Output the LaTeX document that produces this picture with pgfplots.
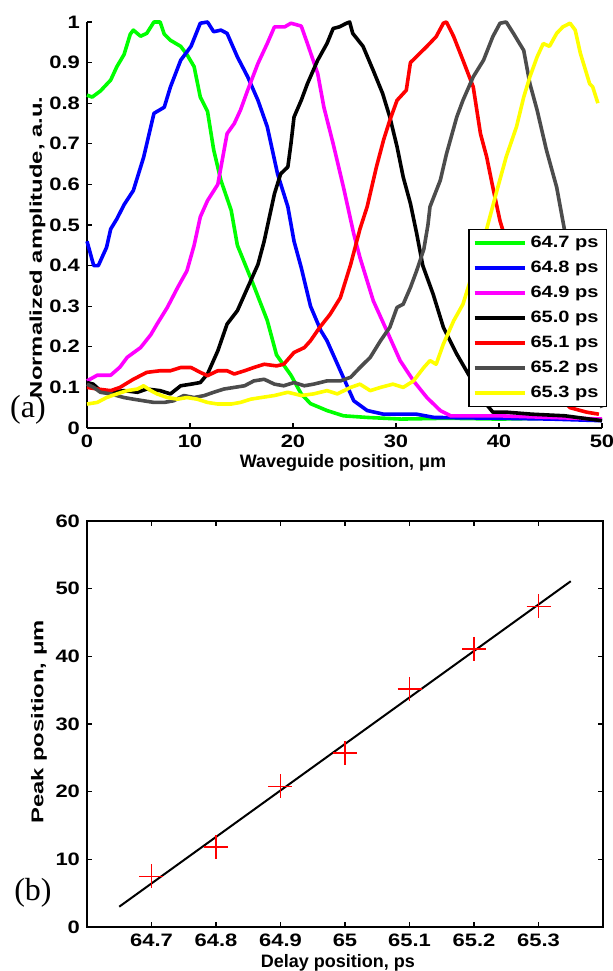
\documentclass[border=0pt]{standalone}
\usepackage{pgfplots}
\pgfplotsset{compat=1.18}
\usepackage{fontspec}
\setmainfont{Liberation Sans}
\newfontfamily\tickfont[FakeStretch=1.22]{Liberation Sans Bold}
\newfontfamily\ylabfont[FakeStretch=1.4]{Liberation Sans Bold}
\newfontfamily\xlabfont{Liberation Sans Bold}
\newfontfamily\panelfont{Liberation Serif}
\definecolor{cgreen}{rgb}{0,1,0}
\definecolor{cblue}{rgb}{0,0,1}
\definecolor{cmag}{rgb}{1,0,1}
\definecolor{cred}{rgb}{1,0,0}
\definecolor{cgray}{rgb}{0.3,0.3,0.3}
\definecolor{cyel}{rgb}{1,1,0}
\begin{document}
\begin{tikzpicture}
\useasboundingbox (0,0) rectangle (306.5pt,485.5pt);
\begin{axis}[
  at={(43.5pt,271.5pt)}, anchor=south west,
  scale only axis, width=257.5pt, height=203pt,
  xmin=0, xmax=50, ymin=0, ymax=1,
  axis x line*=bottom, axis y line*=left,
  axis line style={line width=0.8pt, black},
  tick align=inside, major tick length=2.5pt,
  tick style={line width=0.6pt, black},
  /pgf/number format/assume math mode=true,
  xtick={0,10,20,30,40,50}, xticklabels={0,10,20,30,40,50},
  ytick={0,0.1,0.2,0.3,0.4,0.5,0.6,0.7,0.8,0.9,1},
  yticklabels={0,0.1,0.2,0.3,0.4,0.5,0.6,0.7,0.8,0.9,1},
  ticklabel style={font=\tickfont\fontsize{9}{10}\selectfont},
  xlabel={Waveguide position, μm},
  xlabel style={font=\xlabfont\fontsize{9}{10}\selectfont, at={(axis description cs:0.497,-0.0862)}, anchor=center},
  ylabel={Normalized amplitude, a.u.},
  ylabel style={font=\ylabfont\fontsize{8.5}{10}\selectfont, at={(axis description cs:-0.096,0.445)}, anchor=center},
  clip=false,
  every axis plot/.append style={line width=1.8pt, line join=round},
  legend image code/.code={\draw[#1] (0pt,0pt) -- (25pt,0pt);},
  legend style={at={(axis description cs:1.0097,0.49)}, anchor=north east,
    draw=black, line width=0.6pt, fill=white,
    font=\tickfont\fontsize{8.2}{9}\selectfont,
    inner xsep=2pt, inner ysep=1pt, row sep=1.3pt, cells={anchor=west}},
]
\addplot[cgreen] coordinates {(0,0.82) (0.5,0.815) (1.3,0.83) (2.3,0.857) (2.9,0.89) (3.6,0.92) (4.2,0.97) (4.5,0.98) (5.2,0.965) (5.8,0.972) (6.5,1.0) (7.1,1.0) (7.5,0.97) (8.1,0.955) (9.1,0.94) (9.7,0.92) (10.4,0.89) (11.0,0.815) (11.7,0.78) (12.3,0.685) (13.0,0.61) (14.0,0.536) (14.6,0.45) (16.2,0.35) (17.5,0.265) (18.4,0.18) (19.8,0.13) (20.8,0.084) (21.7,0.06) (23.3,0.043) (24.9,0.03) (27.2,0.026) (30.5,0.022) (35,0.024) (40,0.022) (45,0.024) (50,0.02)};
\addlegendentry{64.7 ps}
\addplot[cblue] coordinates {(0,0.46) (0.65,0.40) (1.1,0.40) (1.9,0.445) (2.3,0.49) (2.9,0.515) (3.6,0.55) (4.5,0.585) (5.5,0.667) (6.5,0.775) (7.5,0.79) (8.1,0.84) (9.1,0.906) (10.1,0.94) (11.0,0.997) (11.7,1.0) (12.3,0.976) (13.0,0.98) (13.6,0.972) (14.6,0.914) (15.6,0.865) (16.6,0.807) (17.5,0.742) (18.5,0.626) (19.5,0.545) (20.1,0.46) (20.8,0.395) (21.7,0.30) (22.7,0.24) (23.3,0.215) (24.6,0.141) (25.9,0.067) (27.2,0.043) (28.8,0.034) (32.0,0.034) (33.7,0.026) (40,0.024) (45,0.022) (50,0.018)};
\addlegendentry{64.8 ps}
\addplot[cmag] coordinates {(0,0.116) (1,0.13) (2.3,0.13) (3.2,0.15) (3.9,0.174) (5.2,0.198) (6.2,0.23) (6.8,0.256) (7.8,0.297) (8.8,0.346) (9.7,0.387) (10.4,0.45) (11.0,0.52) (11.7,0.56) (12.7,0.6) (13.6,0.725) (14.3,0.75) (14.9,0.783) (15.6,0.832) (16.6,0.898) (17.5,0.947) (18.2,0.988) (19.2,0.988) (19.8,0.997) (20.8,0.99) (21.4,0.947) (22.4,0.873) (23.0,0.79) (23.9,0.70) (24.9,0.593) (25.9,0.478) (26.5,0.42) (27.8,0.313) (29.1,0.24) (30.4,0.166) (31.7,0.116) (33.0,0.075) (34.3,0.043) (35.3,0.03) (40,0.03) (45,0.026) (50,0.022)};
\addlegendentry{64.9 ps}
\addplot[black] coordinates {(0,0.112) (0.6,0.108) (1.3,0.092) (2.3,0.088) (3.6,0.092) (4.9,0.088) (5.8,0.096) (7.1,0.092) (8.1,0.084) (9.1,0.104) (10.1,0.108) (11.0,0.112) (11.7,0.133) (12.7,0.19) (13.6,0.256) (14.6,0.289) (15.6,0.346) (16.6,0.403) (17.2,0.46) (18.2,0.577) (18.8,0.626) (19.5,0.643) (19.8,0.70) (20.1,0.766) (20.8,0.807) (21.4,0.848) (22.4,0.906) (23.3,0.947) (23.9,0.984) (24.5,0.988) (25.2,0.997) (25.5,1.0) (25.8,0.972) (26.8,0.94) (27.8,0.88) (28.7,0.824) (29.4,0.766) (30.1,0.693) (30.7,0.618) (31.4,0.553) (32.0,0.48) (32.6,0.40) (33.6,0.33) (34.6,0.248) (35.9,0.182) (37.2,0.125) (38.5,0.067) (39.4,0.039) (40.7,0.039) (43.2,0.034) (46.4,0.03) (50,0.018)};
\addlegendentry{65.0 ps}
\addplot[cred] coordinates {(0,0.1) (1,0.096) (2.3,0.092) (3.2,0.1) (4.5,0.12) (5.8,0.137) (7.1,0.141) (8.1,0.141) (9.1,0.149) (10.1,0.149) (11.0,0.137) (11.7,0.129) (12.7,0.141) (13.6,0.141) (14.3,0.133) (15.3,0.141) (16.2,0.149) (17.2,0.157) (18.4,0.153) (19.1,0.157) (20.1,0.186) (21.1,0.198) (21.7,0.215) (22.6,0.248) (23.6,0.28) (24.6,0.321) (25.6,0.403) (26.5,0.49) (27.2,0.545) (28.1,0.643) (28.8,0.71) (29.4,0.758) (30.1,0.807) (31.0,0.832) (31.4,0.9) (32.0,0.915) (33.0,0.94) (33.9,0.964) (34.6,0.997) (34.9,1.0) (35.6,0.964) (36.5,0.906) (37.5,0.84) (38.2,0.725) (38.8,0.668) (39.4,0.593) (40.1,0.51) (40.7,0.46) (42,0.36) (43,0.28) (44,0.2) (45,0.12) (46.2,0.067) (46.9,0.05) (48.5,0.039) (49.7,0.034)};
\addlegendentry{65.1 ps}
\addplot[cgray] coordinates {(0,0.108) (0.65,0.1) (1.3,0.088) (2.3,0.084) (3.6,0.075) (4.5,0.071) (5.5,0.067) (6.5,0.063) (7.5,0.063) (8.4,0.067) (9.4,0.08) (10.4,0.075) (11.4,0.08) (12.3,0.088) (13.3,0.096) (14.3,0.1) (15.3,0.104) (16.2,0.116) (17.2,0.12) (18.2,0.108) (19.1,0.104) (20.1,0.112) (21.1,0.104) (22.0,0.108) (23.3,0.116) (24.6,0.116) (25.6,0.125) (26.5,0.149) (27.5,0.174) (28.5,0.215) (29.4,0.248) (30.1,0.297) (30.7,0.305) (31.4,0.346) (32.0,0.387) (32.7,0.44) (33.1,0.50) (33.3,0.545) (34.3,0.61) (34.9,0.675) (35.9,0.766) (36.5,0.807) (37.5,0.865) (38.5,0.906) (39.4,0.964) (40.1,0.997) (40.7,1.0) (41.4,0.972) (42.4,0.93) (43.0,0.848) (43.7,0.783) (44.6,0.685) (45.6,0.593) (46.2,0.51) (47,0.40) (48,0.25) (49,0.12) (50,0.05)};
\addlegendentry{65.2 ps}
\addplot[cyel] coordinates {(0,0.059) (1,0.063) (1.9,0.075) (2.9,0.084) (3.9,0.092) (4.9,0.096) (5.5,0.104) (6.2,0.092) (6.8,0.084) (7.8,0.075) (8.8,0.071) (9.7,0.075) (10.7,0.071) (11.7,0.063) (12.7,0.059) (14.0,0.059) (14.9,0.063) (15.9,0.071) (16.9,0.075) (18.2,0.08) (19.5,0.088) (20.8,0.08) (22.0,0.084) (23.3,0.092) (24.3,0.084) (25.6,0.1) (26.5,0.108) (27.5,0.092) (28.5,0.1) (29.7,0.108) (30.7,0.1) (31.7,0.116) (32.7,0.149) (33.3,0.166) (33.9,0.157) (34.6,0.207) (35.6,0.264) (36.5,0.305) (37.2,0.362) (38.0,0.43) (38.8,0.49) (39.8,0.585) (40.7,0.668) (41.7,0.742) (42.4,0.815) (43.0,0.865) (43.7,0.914) (44.3,0.947) (44.9,0.94) (45.6,0.972) (46.2,0.988) (46.9,0.997) (47.4,0.98) (47.9,0.923) (48.8,0.848) (49.1,0.84) (49.6,0.8)};
\addlegendentry{65.3 ps}
\end{axis}
\begin{axis}[
  at={(43.5pt,22pt)}, anchor=south west,
  scale only axis, width=258pt, height=203pt,
  xmin=64.6, xmax=65.4, ymin=0, ymax=60,
  axis line style={line width=0.8pt, black},
  tick align=inside, major tick length=2.5pt,
  tick style={line width=0.6pt, black},
  /pgf/number format/assume math mode=true,
  xtick={64.7,64.8,64.9,65,65.1,65.2,65.3},
  xticklabels={64.7,64.8,64.9,65,65.1,65.2,65.3},
  ytick={0,10,20,30,40,50,60}, yticklabels={0,10,20,30,40,50,60},
  ticklabel style={font=\tickfont\fontsize{9}{10}\selectfont},
  xlabel={Delay position, ps},
  xlabel style={font=\xlabfont\fontsize{9}{10}\selectfont, at={(axis description cs:0.486,-0.089)}, anchor=center},
  ylabel={Peak position, μm},
  ylabel style={font=\ylabfont\fontsize{8.5}{10}\selectfont, at={(axis description cs:-0.093,0.505)}, anchor=center},
]
\addplot[black, line width=1pt] coordinates {(64.65,3.0) (65.35,51.1)};
\addplot[only marks, mark=+, mark size=6pt, color=red, mark options={line width=0.7pt, draw=red}] coordinates {(64.7,7.5) (64.8,11.8) (64.9,20.8) (65.0,25.7) (65.1,35.2) (65.2,41.1) (65.3,47.4)};
\end{axis}
\node[font=\panelfont\fontsize{16}{18}\selectfont] at (14pt,280.5pt) {(a)};
\node[font=\panelfont\fontsize{16}{18}\selectfont] at (16.5pt,39pt) {(b)};
\end{tikzpicture}
\end{document}
